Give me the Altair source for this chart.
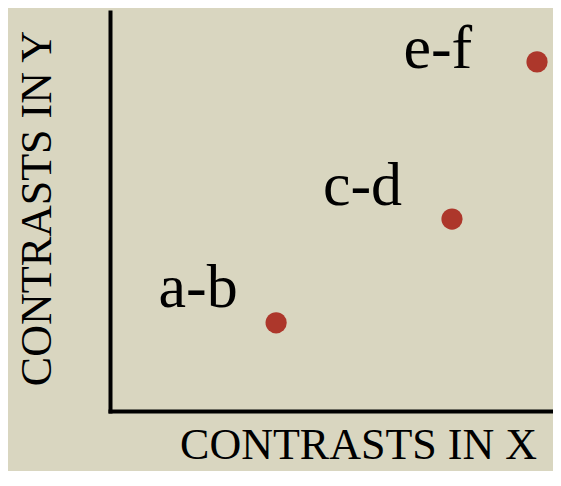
import altair as alt
import pandas as pd

labels = ["a-b", "c-d", "e-f"]
x_vals = [3.75, 7.72, 9.64]
y_vals = [2.21, 4.81, 8.75]
label_x = [1.99, 5.70, 7.40]
label_y = [2.61, 5.16, 8.60]

df = pd.DataFrame({"label": labels, "x": x_vals, "y": y_vals, "lx": label_x, "ly": label_y})

FONT = "Liberation Serif"

xs = alt.Scale(domain=[0, 10], nice=False, zero=False)
ys = alt.Scale(domain=[0, 10], nice=False, zero=False)

x_axis = alt.Axis(
    title="CONTRASTS IN X", grid=False, ticks=False, labels=False,
    domainColor="black", domainWidth=4, domainCap="square",
    titleFont=FONT, titleFontSize=44, titleFontWeight="normal", titleColor="black",
    titleX=248, titleY=47, titleAlign="center", titleBaseline="alphabetic", titleAnchor="middle",
)
y_axis = alt.Axis(
    title="CONTRASTS IN Y", grid=False, ticks=False, labels=False,
    domainColor="black", domainWidth=4, domainCap="square",
    titleFont=FONT, titleFontSize=44, titleFontWeight="normal", titleColor="black",
    titleX=-60, titleY=196, titleAngle=-90, titleAlign="center", titleBaseline="alphabetic",
)

points = alt.Chart(df).mark_circle(size=450, opacity=1, color="#ad372b").encode(
    x=alt.X("x:Q", scale=xs, axis=x_axis),
    y=alt.Y("y:Q", scale=ys, axis=y_axis),
)

texts = alt.Chart(df).mark_text(
    font=FONT, fontSize=62, align="center", baseline="alphabetic", color="black"
).encode(
    x=alt.X("lx:Q", scale=xs),
    y=alt.Y("ly:Q", scale=ys),
    text="label:N",
)

chart = (points + texts).properties(
    width=443, height=399,
    background="#d9d6c0",
    padding={"left": 102, "top": 4, "right": 0, "bottom": 60},
    autosize=alt.AutoSizeParams(type="none"),
).configure_view(stroke=None)

chart.save("out.html", embed_options={"renderer": "svg", "actions": False})
